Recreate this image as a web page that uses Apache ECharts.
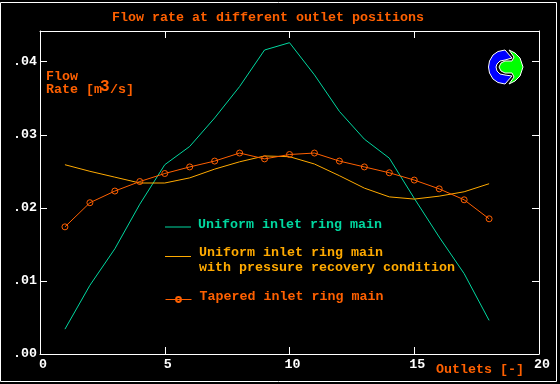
<!DOCTYPE html>
<html>
<head>
<meta charset="utf-8">
<style>html,body{margin:0;padding:0;background:#000}#c{width:560px;height:384px}</style>
<script src="https://cdn.jsdelivr.net/npm/echarts@6/dist/echarts.min.js"></script>
</head>
<body>
<div id="c"></div>
<script>
const outlets = [1,2,3,4,5,6,7,8,9,10,11,12,13,14,15,16,17,18];
const uniform = [.0034,.0094,.0144,.0205,.0259,.0284,.0323,.0366,.0416,.0426,.0382,.0332,.0294,.0268,.0213,.0160,.0110,.0046];
const recovery = [.0259,.0250,.0242,.0234,.0234,.0241,.0253,.0263,.0271,.0270,.0260,.0244,.0227,.0215,.0212,.0216,.0222,.0233];
const tapered = [.0174,.0207,.0223,.0236,.0247,.0256,.0264,.0275,.0267,.0273,.0275,.0264,.0256,.0248,.0238,.0226,.0211,.0185];
const yTickLabels = ['.00','.01','.02','.03','.04'];
const xTickLabels = ['0','5','10','15','20'];
const titleText = 'Flow rate at different outlet positions';
const nameUniform = 'Uniform inlet ring main';
const nameRecovery = 'Uniform inlet ring main with pressure recovery condition';
const nameTapered = 'Tapered inlet ring main';

const FONT = '"Liberation Mono", monospace';
const RED = '#ff6000', GREEN = '#00d8a0', AMBER = '#ffaa00';
const txt = (text, x, y, fill, size) => ({
  type: 'text', x, y, silent: true,
  style: { text, fill, font: 'bold ' + (size || 13.33) + 'px ' + FONT, textVerticalAlign: 'middle' }
});
const pairs = a => a.map((v, i) => [outlets[i], v]);
const yFmt = v => yTickLabels[Math.round(v / 0.01)] || '';
const xFmt = v => xTickLabels[Math.round(v / 5)] || '';
const axisLine = { show: true, onZero: false, lineStyle: { color: '#fff', width: 1 } };
const tick = { show: true, inside: true, length: 7, lineStyle: { color: '#fff', width: 1 } };
const legendBase = { orient: 'horizontal', itemWidth: 26, left: 165, padding: 0, lineStyle: { width: 1 } };
const legendText = (c, lh, left) => ({ color: c, fontFamily: FONT, fontWeight: 'bold', fontSize: 13.33, lineHeight: lh, padding: [0, 0, 0, left] });

const chart = echarts.init(document.getElementById('c'), null, { renderer: 'canvas' });
chart.setOption({
  animation: false,
  backgroundColor: '#000',
  title: { text: titleText, left: 112, top: 11, padding: 0,
    textStyle: { color: RED, fontFamily: FONT, fontWeight: 'bold', fontSize: 13.33 } },
  grid: { left: 40, right: 21, top: 31, bottom: 30, containLabel: false },
  xAxis: [
    { type: 'value', min: 0, max: 20, interval: 5, position: 'bottom', axisLine, axisTick: tick, splitLine: { show: false },
      axisLabel: { color: '#fff', fontFamily: FONT, fontWeight: 'bold', fontSize: 13.33, margin: 4, padding: [0, 0, 0, 6], formatter: xFmt, hideOverlap: false } },
    { type: 'value', min: 0, max: 20, interval: 5, position: 'top', axisLine, axisTick: tick, splitLine: { show: false }, axisLabel: { show: false } }
  ],
  yAxis: [
    { type: 'value', min: 0, max: 0.0442, interval: 0.01, position: 'left', axisLine, axisTick: tick, splitLine: { show: false },
      axisLabel: { color: '#fff', fontFamily: FONT, fontWeight: 'bold', fontSize: 13.33, margin: 3, padding: [0, 0, 4, 0], formatter: yFmt, showMaxLabel: false } },
    { type: 'value', min: 0, max: 0.0442, interval: 0.01, position: 'right', axisLine, axisTick: tick, splitLine: { show: false }, axisLabel: { show: false } }
  ],
  legend: [
    { ...legendBase, top: 218, icon: 'rect', itemHeight: 1, data: [nameUniform], textStyle: legendText(GREEN, 5, 2), formatter: () => nameUniform + '\n' },
    { ...legendBase, top: 246, icon: 'rect', itemHeight: 1, data: [nameRecovery], textStyle: legendText(AMBER, 8, 3), formatter: () => nameUniform + '\n' },
    { ...legendBase, top: 290, itemHeight: 6, data: [nameTapered], textStyle: legendText(RED, 6, 3), formatter: () => nameTapered + '\n' }
  ],
  series: [
    { name: nameUniform, type: 'line', data: pairs(uniform), showSymbol: false, symbol: 'none', lineStyle: { color: GREEN, width: 1 }, itemStyle: { color: GREEN } },
    { name: nameRecovery, type: 'line', data: pairs(recovery), showSymbol: false, symbol: 'none', lineStyle: { color: AMBER, width: 1 }, itemStyle: { color: AMBER } },
    { name: nameTapered, type: 'line', data: pairs(tapered), symbol: 'circle', symbolSize: 6, lineStyle: { color: RED, width: 1 },
      itemStyle: { color: 'transparent', borderColor: RED, borderWidth: 1 } }
  ],
  graphic: [
    { type: 'rect', shape: { x: 0.5, y: 2.5, width: 556, height: 379 }, style: { fill: null, stroke: '#fff', lineWidth: 1 }, silent: true, z: -1 },
    txt('Flow', 46, 77, RED),
    txt('Rate [m', 46, 90, RED),
    txt('3', 100, 87, RED, 16),
    txt('/s]', 110, 90, RED),
    txt('with pressure recovery condition', 199, 268, AMBER),
    txt('Outlets [-]', 436, 370, RED),
    { type: 'polygon', silent: true, shape: { points: [[505,50],[512,58],[505,60],[500,61],[497,64],[496,67],[497,71],[500,74],[505,75],[512,76],[505,84],[498,82.5],[493,79],[489.5,73],[488.5,67],[489.5,61],[493,55],[498,51.5]] },
      style: { fill: '#0000ff', stroke: '#fff', lineWidth: 1 } },
    { type: 'polygon', silent: true, shape: { points: [[509,50],[514,57],[512,61],[505,61],[501,63],[499,67],[501,71],[505,73],[512,73],[514,77],[509,84],[515,81],[520,76],[523,67],[520,58],[515,53]] },
      style: { fill: '#00ff00', stroke: '#fff', lineWidth: 1 } }
  ]
});
</script>
</body>
</html>
